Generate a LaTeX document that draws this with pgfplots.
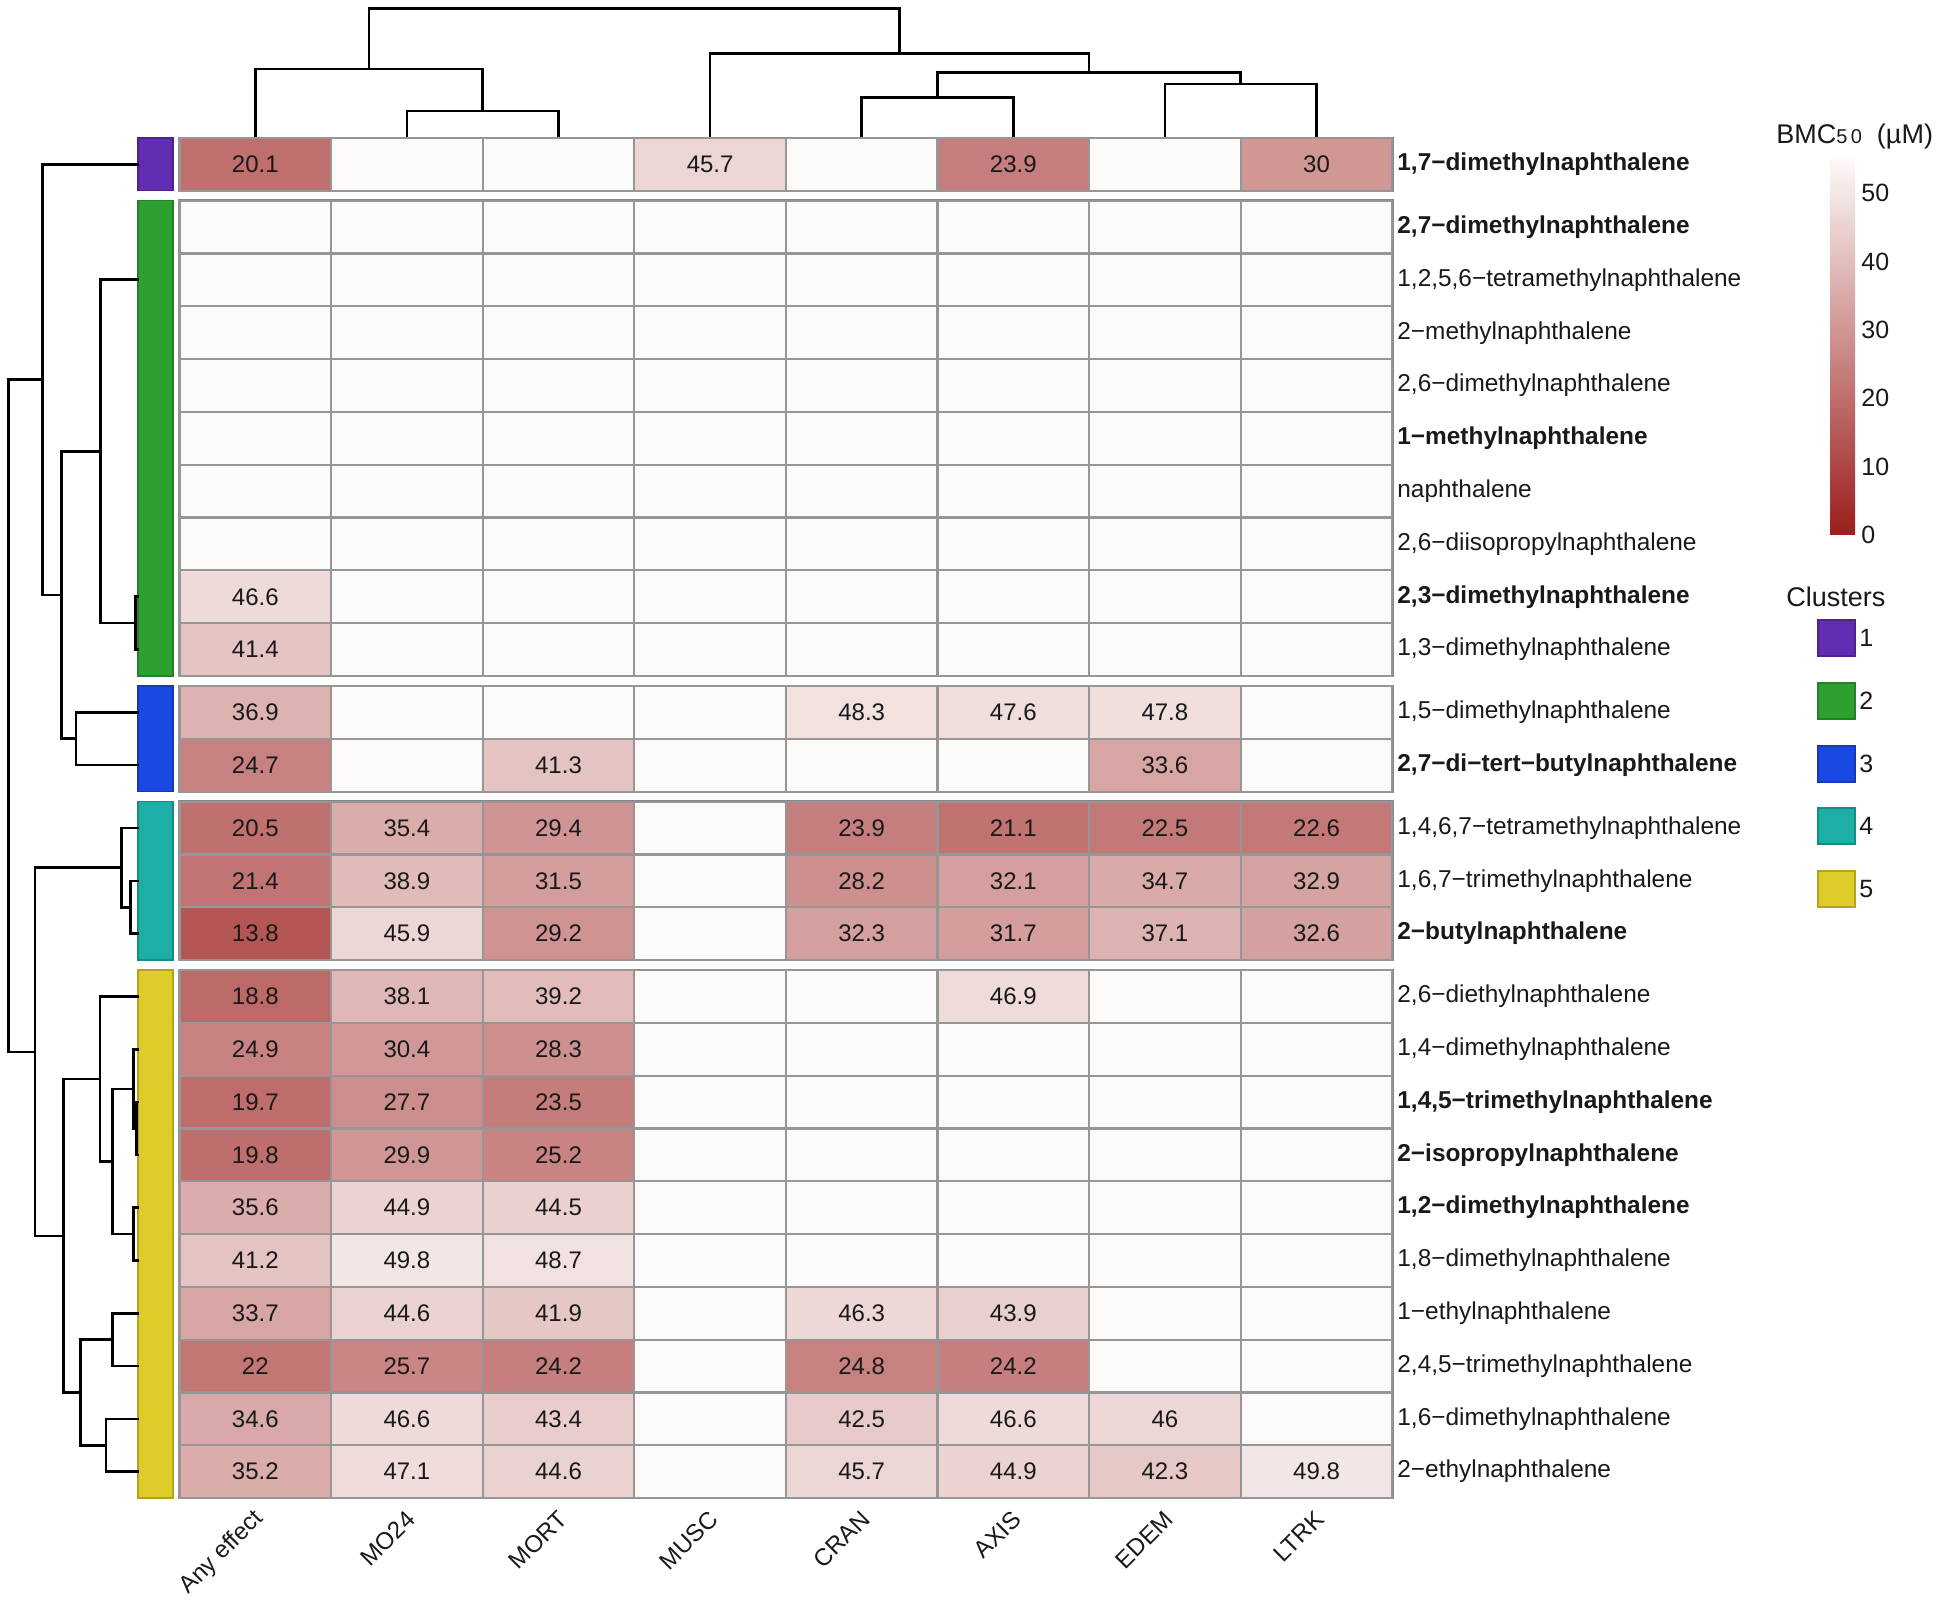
\documentclass[border=0pt]{standalone}
\usepackage{pgfplots}
\usepackage{pgfplotstable}
\pgfplotsset{compat=1.18}
\usepackage{fontspec}
\setmainfont{Liberation Sans}
\definecolor{gridgray}{RGB}{150,150,150}
\definecolor{outergray}{RGB}{135,135,135}
\definecolor{emptycell}{RGB}{252,250,249}
\definecolor{txt}{RGB}{25,25,25}
\definecolor{c1}{RGB}{96,44,178}
\definecolor{c2}{RGB}{46,160,48}
\definecolor{c3}{RGB}{26,72,226}
\definecolor{c4}{RGB}{30,174,168}
\definecolor{c5}{RGB}{222,204,42}
\newcommand\fs[1]{\fontsize{#1}{#1}\selectfont}
\pgfdeclareplotmark{cell}{\pgfpathrectangle{\pgfpoint{-37.9pt}{-13.2pt}}{\pgfpoint{75.8pt}{26.4pt}}\pgfusepathqfillstroke}
\pgfplotsset{dend/.style={black, line width=1.3pt, mark=none, line join=miter, line cap=rect}}
\newcommand\lnk[1]{\addplot[dend] coordinates {#1};}

\pgfplotstableread{
y
164.4
227.2
280.0
332.8
385.6
438.4
491.2
544.0
596.8
649.6
712.4
765.2
828.0
880.8
933.6
996.4
1049.2
1102.0
1154.8
1207.6
1260.4
1313.2
1366.0
1418.8
1471.6
}\rowtab

\pgfplotstableread{
c y v
0 164.4 20.1
3 164.4 45.7
5 164.4 23.9
7 164.4 30
0 596.8 46.6
0 649.6 41.4
0 712.4 36.9
4 712.4 48.3
5 712.4 47.6
6 712.4 47.8
0 765.2 24.7
2 765.2 41.3
6 765.2 33.6
0 828.0 20.5
1 828.0 35.4
2 828.0 29.4
4 828.0 23.9
5 828.0 21.1
6 828.0 22.5
7 828.0 22.6
0 880.8 21.4
1 880.8 38.9
2 880.8 31.5
4 880.8 28.2
5 880.8 32.1
6 880.8 34.7
7 880.8 32.9
0 933.6 13.8
1 933.6 45.9
2 933.6 29.2
4 933.6 32.3
5 933.6 31.7
6 933.6 37.1
7 933.6 32.6
0 996.4 18.8
1 996.4 38.1
2 996.4 39.2
5 996.4 46.9
0 1049.2 24.9
1 1049.2 30.4
2 1049.2 28.3
0 1102.0 19.7
1 1102.0 27.7
2 1102.0 23.5
0 1154.8 19.8
1 1154.8 29.9
2 1154.8 25.2
0 1207.6 35.6
1 1207.6 44.9
2 1207.6 44.5
0 1260.4 41.2
1 1260.4 49.8
2 1260.4 48.7
0 1313.2 33.7
1 1313.2 44.6
2 1313.2 41.9
4 1313.2 46.3
5 1313.2 43.9
0 1366.0 22
1 1366.0 25.7
2 1366.0 24.2
4 1366.0 24.8
5 1366.0 24.2
0 1418.8 34.6
1 1418.8 46.6
2 1418.8 43.4
4 1418.8 42.5
5 1418.8 46.6
6 1418.8 46
0 1471.6 35.2
1 1471.6 47.1
2 1471.6 44.6
4 1471.6 45.7
5 1471.6 44.9
6 1471.6 42.3
7 1471.6 49.8
}\cells

\begin{document}
\begin{tikzpicture}
\begin{axis}[
  width=975pt, height=802pt, scale only axis,
  xmin=0, xmax=1950, ymin=0, ymax=1604, y dir=reverse,
  axis x line=none, axis y line=none, xtick=\empty, ytick=\empty,
  clip=false,
  /pgf/number format/assume math mode=true,
  colormap={bmc}{rgb255=(155,30,28) rgb255=(252,250,249)},
  point meta min=0, point meta max=55,
  colorbar,
  colorbar style={
    at={(parent axis.north west)}, anchor=north west,
    xshift=906.5pt, yshift=-79.5pt,
    scale only axis, width=12.5pt, height=188pt,
    y dir=normal, ymin=0, ymax=55,
    ytick={0,10,20,30,40,50},
    yticklabel style={font=\fs{12.5}, text=txt, inner sep=1pt, xshift=2pt},
    major tick length=0pt,
    axis line style={draw=none},
    /pgf/number format/assume math mode=true,
  },
]
% white background
\addplot[fill=white, draw=none, mark=none] coordinates {(0,0) (1950,0) (1950,1604) (0,1604)} --cycle;

% empty cells
\pgfplotsinvokeforeach{0,...,7}{
  \addplot[only marks, mark=cell, mark options={fill=emptycell, draw=gridgray, line width=1.1pt}]
    table[x expr={179.5+151.6*(#1+0.5)}, y=y] {\rowtab};
}
% valued cells
\addplot[scatter, only marks, mark=cell, point meta=explicit,
  scatter/use mapped color={draw=gridgray, fill=mapped color, line width=1.1pt}]
  table[x expr={179.5+151.6*(\thisrow{c}+0.5)}, y=y, meta=v] {\cells};
% values written in the cells
\addplot[draw=none, mark=none, point meta=explicit,
  nodes near coords,
  every node near coord/.append style={anchor=center, font=\fs{12}, text=txt}]
  table[x expr={179.5+151.6*(\thisrow{c}+0.5)}, y=y, meta=v] {\cells};

% outer borders of groups
\addplot[draw=outergray, line width=1.4pt, mark=none] coordinates {(179.5,138) (1392.3,138) (1392.3,190.8) (179.5,190.8)} --cycle;
\addplot[draw=outergray, line width=1.4pt, mark=none] coordinates {(179.5,200.8) (1392.3,200.8) (1392.3,676) (179.5,676)} --cycle;
\addplot[draw=outergray, line width=1.4pt, mark=none] coordinates {(179.5,686) (1392.3,686) (1392.3,791.6) (179.5,791.6)} --cycle;
\addplot[draw=outergray, line width=1.4pt, mark=none] coordinates {(179.5,801.6) (1392.3,801.6) (1392.3,960) (179.5,960)} --cycle;
\addplot[draw=outergray, line width=1.4pt, mark=none] coordinates {(179.5,970) (1392.3,970) (1392.3,1498) (179.5,1498)} --cycle;

% cluster annotation bars
\addplot[fill=c1, draw=c1!80!black, line width=0.6pt, mark=none] coordinates {(138,138) (173,138) (173,190.8) (138,190.8)} --cycle;
\addplot[fill=c2, draw=c2!80!black, line width=0.6pt, mark=none] coordinates {(138,200.8) (173,200.8) (173,676) (138,676)} --cycle;
\addplot[fill=c3, draw=c3!80!black, line width=0.6pt, mark=none] coordinates {(138,686) (173,686) (173,791.6) (138,791.6)} --cycle;
\addplot[fill=c4, draw=c4!80!black, line width=0.6pt, mark=none] coordinates {(138,801.6) (173,801.6) (173,960) (138,960)} --cycle;
\addplot[fill=c5, draw=c5!80!black, line width=0.6pt, mark=none] coordinates {(138,970) (173,970) (173,1498) (138,1498)} --cycle;

% legend boxes
\addplot[fill=c1, draw=c1!80!black, line width=0.6pt, mark=none] coordinates {(1818,620) (1855,620) (1855,656) (1818,656)} --cycle;
\addplot[fill=c2, draw=c2!80!black, line width=0.6pt, mark=none] coordinates {(1818,683) (1855,683) (1855,719) (1818,719)} --cycle;
\addplot[fill=c3, draw=c3!80!black, line width=0.6pt, mark=none] coordinates {(1818,746) (1855,746) (1855,782) (1818,782)} --cycle;
\addplot[fill=c4, draw=c4!80!black, line width=0.6pt, mark=none] coordinates {(1818,808) (1855,808) (1855,844) (1818,844)} --cycle;
\addplot[fill=c5, draw=c5!80!black, line width=0.6pt, mark=none] coordinates {(1818,871) (1855,871) (1855,907) (1818,907)} --cycle;

% top dendrogram
\lnk{(406.9,137) (406.9,111) (558.5,111) (558.5,137)}
\lnk{(255.3,137) (255.3,69) (482.7,69) (482.7,111)}
\lnk{(861.7,137) (861.7,97.3) (1013.3,97.3) (1013.3,137)}
\lnk{(1164.9,137) (1164.9,84) (1316.5,84) (1316.5,137)}
\lnk{(937.5,97.3) (937.5,72.7) (1240.7,72.7) (1240.7,84)}
\lnk{(710.1,137) (710.1,53.3) (1089.1,53.3) (1089.1,72.7)}
\lnk{(369,69) (369,8.3) (899.6,8.3) (899.6,53.3)}

% left dendrogram
\lnk{(138,596.8) (135.7,596.8) (135.7,649.6) (138,649.6)}
\lnk{(138,279.6) (100.7,279.6) (100.7,623.2) (135.7,623.2)}
\lnk{(100.7,451.4) (61.7,451.4) (61.7,738.8) (76,738.8)}
\lnk{(138,712.4) (76,712.4) (76,765.2) (138,765.2)}
\lnk{(138,164.4) (42.7,164.4) (42.7,595.1) (61.7,595.1)}
\lnk{(42.7,379.8) (8.3,379.8) (8.3,1052) (35,1052)}
\lnk{(121.7,867.6) (35,867.6) (35,1236) (63.3,1236)}
\lnk{(138,880.8) (130.7,880.8) (130.7,933.6) (138,933.6)}
\lnk{(138,828) (121.7,828) (121.7,907.2) (130.7,907.2)}
\lnk{(138,1102) (136.7,1102) (136.7,1154.8) (138,1154.8)}
\lnk{(138,1049.2) (133.3,1049.2) (133.3,1128.4) (136.7,1128.4)}
\lnk{(138,1207.6) (133.3,1207.6) (133.3,1260.4) (138,1260.4)}
\lnk{(133.3,1088.8) (112.3,1088.8) (112.3,1234) (133.3,1234)}
\lnk{(138,996.4) (100,996.4) (100,1161.4) (112.3,1161.4)}
\lnk{(138,1313.2) (112.3,1313.2) (112.3,1366) (138,1366)}
\lnk{(138,1418.8) (106,1418.8) (106,1471.6) (138,1471.6)}
\lnk{(112.3,1339.6) (80.7,1339.6) (80.7,1445.2) (106,1445.2)}
\lnk{(100,1078.9) (63.3,1078.9) (63.3,1392.4) (80.7,1392.4)}

% row labels
\begin{scope}[every node/.style={anchor=west, inner sep=0pt, font=\fs{12.2}, text=txt}]
\node at (axis cs:1397,164.4) {\textbf{1,7−dimethylnaphthalene}};
\node at (axis cs:1397,227.2) {\textbf{2,7−dimethylnaphthalene}};
\node at (axis cs:1397,280.0) {1,2,5,6−tetramethylnaphthalene};
\node at (axis cs:1397,332.8) {2−methylnaphthalene};
\node at (axis cs:1397,385.6) {2,6−dimethylnaphthalene};
\node at (axis cs:1397,438.4) {\textbf{1−methylnaphthalene}};
\node at (axis cs:1397,491.2) {naphthalene};
\node at (axis cs:1397,544.0) {2,6−diisopropylnaphthalene};
\node at (axis cs:1397,596.8) {\textbf{2,3−dimethylnaphthalene}};
\node at (axis cs:1397,649.6) {1,3−dimethylnaphthalene};
\node at (axis cs:1397,712.4) {1,5−dimethylnaphthalene};
\node at (axis cs:1397,765.2) {\textbf{2,7−di−tert−butylnaphthalene}};
\node at (axis cs:1397,828.0) {1,4,6,7−tetramethylnaphthalene};
\node at (axis cs:1397,880.8) {1,6,7−trimethylnaphthalene};
\node at (axis cs:1397,933.6) {\textbf{2−butylnaphthalene}};
\node at (axis cs:1397,996.4) {2,6−diethylnaphthalene};
\node at (axis cs:1397,1049.2) {1,4−dimethylnaphthalene};
\node at (axis cs:1397,1102.0) {\textbf{1,4,5−trimethylnaphthalene}};
\node at (axis cs:1397,1154.8) {\textbf{2−isopropylnaphthalene}};
\node at (axis cs:1397,1207.6) {\textbf{1,2−dimethylnaphthalene}};
\node at (axis cs:1397,1260.4) {1,8−dimethylnaphthalene};
\node at (axis cs:1397,1313.2) {1−ethylnaphthalene};
\node at (axis cs:1397,1366.0) {2,4,5−trimethylnaphthalene};
\node at (axis cs:1397,1418.8) {1,6−dimethylnaphthalene};
\node at (axis cs:1397,1471.6) {2−ethylnaphthalene};
\end{scope}

% column labels
\begin{scope}[every node/.style={anchor=east, rotate=45, inner sep=0pt, font=\fs{12}, text=txt}]
\node at (axis cs:260,1515) {Any effect};
\node at (axis cs:411,1515) {MO24};
\node at (axis cs:563,1515) {MORT};
\node at (axis cs:714,1515) {MUSC};
\node at (axis cs:866,1515) {CRAN};
\node at (axis cs:1017,1515) {AXIS};
\node at (axis cs:1169,1515) {EDEM};
\node at (axis cs:1320,1515) {LTRK};
\end{scope}

% colorbar title and legend
\node[anchor=west, inner sep=0pt, text=txt] at (axis cs:1776,137) {\fs{13.5}BMC{\fs{10}5\,0}\ \ (µM)};
\node[anchor=west, inner sep=0pt, text=txt, font=\fs{13.5}] at (axis cs:1786,597) {Clusters};
\begin{scope}[every node/.style={anchor=west, inner sep=0pt, font=\fs{12.5}, text=txt}]
\node at (axis cs:1859,638) {1};
\node at (axis cs:1859,701) {2};
\node at (axis cs:1859,764) {3};
\node at (axis cs:1859,826) {4};
\node at (axis cs:1859,889) {5};
\end{scope}
\end{axis}
\end{tikzpicture}
\end{document}
